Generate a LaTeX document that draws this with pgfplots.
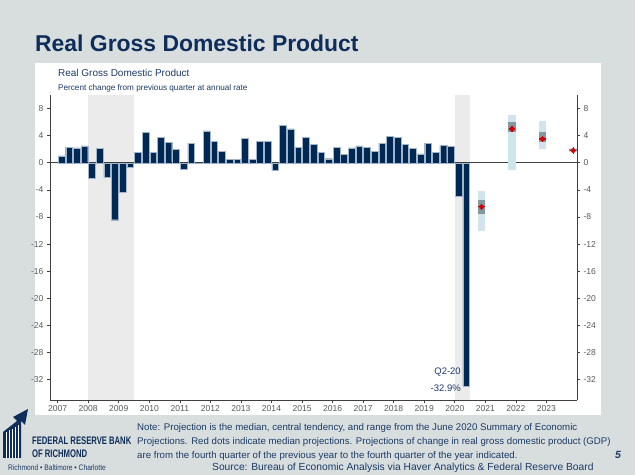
\documentclass[border=0pt]{standalone}
\usepackage{fontspec}
\setmainfont{Liberation Sans}
\usepackage{pgfplots}
\pgfplotsset{compat=1.18}
\definecolor{bg}{HTML}{D8DEDE}
\definecolor{navy}{HTML}{1B3A66}
\definecolor{titlenavy}{HTML}{0F2D5A}
\definecolor{barnavy}{HTML}{002855}
\definecolor{baredge}{HTML}{A3B6C9}
\definecolor{shade}{HTML}{EBEBEB}
\definecolor{rangeblue}{HTML}{D0E4EE}
\definecolor{ctgray}{HTML}{85979F}
\definecolor{medred}{HTML}{D40000}
\definecolor{ticklab}{HTML}{595959}
\definecolor{axline}{HTML}{3F3F3F}

\pgfplotstableread{
x y
2007.125 1.0
2007.375 2.3
2007.625 2.2
2007.875 2.5
2008.125 -2.3
2008.375 2.1
2008.625 -2.1
2008.875 -8.4
2009.125 -4.4
2009.375 -0.6
2009.625 1.5
2009.875 4.5
2010.125 1.5
2010.375 3.7
2010.625 3.0
2010.875 2.0
2011.125 -1.0
2011.375 2.9
2011.625 -0.1
2011.875 4.7
2012.125 3.2
2012.375 1.7
2012.625 0.5
2012.875 0.5
2013.125 3.6
2013.375 0.5
2013.625 3.2
2013.875 3.2
2014.125 -1.1
2014.375 5.5
2014.625 5.0
2014.875 2.3
2015.125 3.8
2015.375 2.7
2015.625 1.5
2015.875 0.6
2016.125 2.3
2016.375 1.2
2016.625 2.2
2016.875 2.5
2017.125 2.3
2017.375 1.7
2017.625 2.9
2017.875 3.9
2018.125 3.8
2018.375 2.7
2018.625 2.1
2018.875 1.3
2019.125 2.9
2019.375 1.5
2019.625 2.6
2019.875 2.4
2020.125 -5.0
2020.375 -32.9
}\gdp

\begin{document}
\begin{tikzpicture}
\useasboundingbox (0,0) rectangle (635bp,475bp);
\fill[bg] (0,0) rectangle (635bp,475bp);
\begin{scope}[x=1bp,y=-1bp,shift={(0,475bp)}]
\fill[white] (35,63) rectangle (601,415);
\node[anchor=base west, inner sep=0, text=titlenavy, font=\fontsize{23}{27}\selectfont\bfseries] at (35,52) {Real Gross Domestic Product};
\node[anchor=base west, inner sep=0, text=navy, font=\fontsize{10}{12}\selectfont] at (58,77) {Real Gross Domestic Product};
\node[anchor=base west, inner sep=0, text=navy, font=\fontsize{8.2}{9}\selectfont] at (58,90.5) {Percent change from previous quarter at annual rate};
% notes
\node[anchor=base west, inner sep=0, text=navy, font=\fontsize{9.7}{12}\selectfont] at (137,430.5) {Note: Projection is the median, central tendency, and range from the June 2020 Summary of Economic};
\node[anchor=base west, inner sep=0, text=navy, font=\fontsize{9.7}{12}\selectfont] at (137,444.5) {Projections. Red dots indicate median projections. Projections of change in real gross domestic product (GDP)};
\node[anchor=base west, inner sep=0, text=navy, font=\fontsize{9.7}{12}\selectfont] at (137,458.5) {are from the fourth quarter of the previous year to the fourth quarter of the year indicated.};
\node[anchor=base west, inner sep=0, text=navy, font=\fontsize{10.3}{12}\selectfont] at (212,470.5) {Source: Bureau of Economic Analysis via Haver Analytics \& Federal Reserve Board};
\node[anchor=base west, inner sep=0, text=navy, font=\fontsize{10.5}{12}\selectfont\bfseries\itshape] at (615,459) {5};
% logo
\fill[titlenavy] (3,458) -- (3,432) -- (17,421) -- (13,417) -- (28,409) -- (25,425) -- (21,421) -- (21,458) -- cycle;
\foreach \xx in {6,9,12,15,18} {\draw[white, line width=0.8] (\xx,458) -- (\xx,{434-(\xx-3)*0.6});}
\node[anchor=base west, inner sep=0, text=titlenavy, font=\fontsize{11}{12}\selectfont\bfseries, xscale=0.7] at (32,445) {FEDERAL RESERVE BANK};
\node[anchor=base west, inner sep=0, text=titlenavy, font=\fontsize{11}{12}\selectfont\bfseries, xscale=0.7] at (32,458) {OF RICHMOND};
\node[anchor=base west, inner sep=0, text=navy, font=\fontsize{8}{9}\selectfont, xscale=0.84] at (8,470.5) {Richmond • Baltimore • Charlotte};
\end{scope}

\begin{axis}[at={(50bp,75bp)}, anchor=south west, scale only axis,
  width=527bp, height=305bp,
  xmin=2006.75, xmax=2024, ymin=-35, ymax=10,
  axis x line*=bottom, axis y line*=left,
  axis line style={axline, line width=0.8bp},
  xtick={2007,2008,...,2023},
  xticklabels={2007,2008,2009,2010,2011,2012,2013,2014,2015,2016,2017,2018,2019,2020,2021,2022,2023},
  ytick={-32,-28,-24,-20,-16,-12,-8,-4,0,4,8},
  yticklabels={-32,-28,-24,-20,-16,-12,-8,-4,0,4,8},
  tick align=outside, major tick length=3bp,
  tick style={axline, line width=0.6bp},
  ticklabel style={font=\fontsize{8.6}{10}\selectfont, text=ticklab},
  xticklabel style={yshift=1bp},
  clip=false]
\addplot[fill=shade, draw=none] coordinates {(2008,-35) (2008,10) (2009.5,10) (2009.5,-35)};
\addplot[fill=shade, draw=none] coordinates {(2020,-35) (2020,10) (2020.5,10) (2020.5,-35)};
\addplot[axline, line width=0.8bp] coordinates {(2006.75,0) (2024,0)};
\addplot[ybar, bar width=0.22, bar shift=0pt, fill=barnavy, draw=baredge, line width=0.4bp] table[x=x, y=y] {\gdp};
% ranges
\addplot[rangeblue, line width=7.4bp] coordinates {(2020.875,-10.0) (2020.875,-4.2)};
\addplot[rangeblue, line width=7.4bp] coordinates {(2021.875,-1.0) (2021.875,7.0)};
\addplot[rangeblue, line width=7.4bp] coordinates {(2022.875,2.0) (2022.875,6.2)};
\addplot[rangeblue, line width=7.4bp] coordinates {(2023.875,1.6) (2023.875,2.2)};
% central tendency
\addplot[ctgray, line width=7.4bp] coordinates {(2020.875,-7.6) (2020.875,-5.5)};
\addplot[ctgray, line width=7.4bp] coordinates {(2021.875,4.5) (2021.875,6.0)};
\addplot[ctgray, line width=7.4bp] coordinates {(2022.875,3.0) (2022.875,4.5)};
\addplot[ctgray, line width=7.4bp] coordinates {(2023.875,1.7) (2023.875,2.0)};
% medians
\addplot[only marks, mark=*, mark size=2.1bp, medred] coordinates {(2020.875,-6.5) (2021.875,5.0) (2022.875,3.5) (2023.875,1.8)};
\addplot[only marks, mark=+, mark size=3.2bp, line width=1.3bp, medred] coordinates {(2020.875,-6.5) (2021.875,5.0) (2022.875,3.5) (2023.875,1.8)};
\node[anchor=base east, inner sep=0, text=navy, font=\fontsize{9.5}{11}\selectfont] at (axis cs:2020.2,-31.3) {Q2-20};
\node[anchor=base east, inner sep=0, text=navy, font=\fontsize{9.5}{11}\selectfont] at (axis cs:2020.2,-33.7) {-32.9\%};
\end{axis}

\begin{axis}[at={(50bp,75bp)}, anchor=south west, scale only axis,
  width=527bp, height=305bp,
  xmin=2006.75, xmax=2024, ymin=-35, ymax=10,
  axis x line=none, axis y line*=right,
  axis line style={axline, line width=0.8bp},
  ytick={-32,-28,-24,-20,-16,-12,-8,-4,0,4,8},
  yticklabels={-32,-28,-24,-20,-16,-12,-8,-4,0,4,8},
  tick align=outside, major tick length=3bp,
  tick style={axline, line width=0.6bp},
  ticklabel style={font=\fontsize{8.6}{10}\selectfont, text=ticklab}]
\addplot[draw=none] coordinates {(2010,0)};
\end{axis}
\end{tikzpicture}
\end{document}
